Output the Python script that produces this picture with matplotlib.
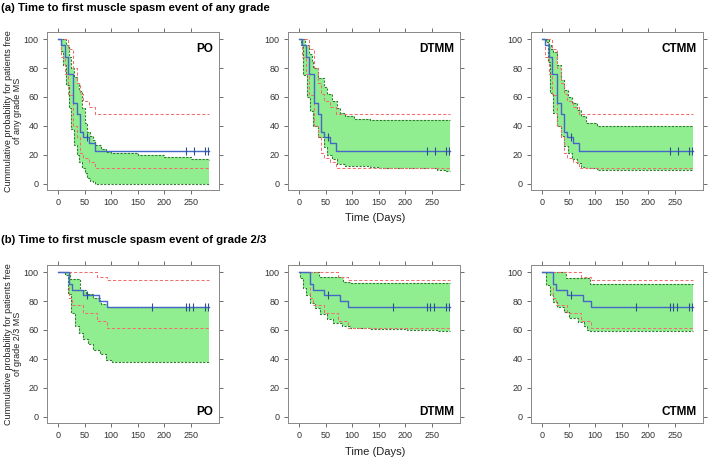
import numpy as np
import matplotlib.pyplot as plt

plt.rcParams['font.family'] = ['Liberation Sans', 'DejaVu Sans']

# observed Kaplan-Meier, any grade (same in all three top panels)
km_a_t = [0, 6, 12, 18, 27.5, 36, 42, 47, 58, 70, 285]
km_a_s = [100, 96, 88, 76, 56, 48, 36, 32, 28, 22.5, 22.5]
cens_a = [55, 240, 255, 276, 283]
# 95% CI of observed KM (red dashed)
ci_a_t = [0, 6, 12, 18, 27.5, 36, 42, 47, 58, 70, 285]
ci_a_lo = [100, 88, 76, 61, 40, 32, 21, 18, 15, 11, 11]
ci_a_hi = [100, 100, 100, 93, 80, 70, 62, 57, 53, 48, 48]

# model prediction bands, any grade
po_a_t = [0, 5, 10, 15, 20, 25, 30, 35, 40, 45, 50, 55, 60, 65, 70, 80, 90, 100, 150, 200, 250, 285]
po_a_hi = [100, 100, 100, 96, 88, 80, 74, 70, 64, 52, 42, 36, 33, 30, 27, 24, 22, 21, 20, 18.5, 17, 16]
po_a_lo = [100, 92, 82, 68, 52, 38, 27, 20, 15, 11, 7, 4, 2, 1, 0, 0, 0, 0, 0, 0, 0, 0]

dt_a_t = [0, 3, 8, 11, 14, 19, 20, 24, 27, 36, 46, 52, 62, 71, 77, 87, 103, 134, 150, 230, 260, 275, 285]
dt_a_hi = [100, 100, 100, 96, 96, 90, 90, 84, 80, 73, 67, 62, 57, 52, 49, 47, 45, 44, 44, 44, 44, 44, 44]
dt_a_lo = [100, 96, 75, 75, 60, 60, 50, 50, 40, 32, 25, 20, 17, 13.5, 13.5, 12, 12, 11.5, 11, 10.5, 9.5, 8.5, 8.5]

ct_a_t = [0, 8, 11, 12, 15, 17, 20, 28, 35, 42, 48, 57, 65, 73, 82, 104, 285]
ct_a_hi = [100, 100, 100, 96, 96, 93, 91, 82, 72, 65, 60, 56, 51, 47, 42, 40, 40]
ct_a_lo = [100, 98, 84, 84, 63, 63, 49, 40, 33, 26, 21, 17, 14, 11.7, 10.5, 9.3, 9.3]

# observed Kaplan-Meier, grade 2/3
km_b_t = [0, 20, 26, 47, 77, 92, 285]
km_b_s = [100, 92, 88, 84, 80, 76, 76]
cens_b = [55, 176, 240, 247, 254, 276, 283]
ci_b_t = [0, 20, 26, 47, 74, 92, 285]
ci_b_lo = [100, 82, 77, 71.5, 66, 61, 61]
ci_b_hi = [100, 100, 100, 100, 97, 94.5, 94.5]

po_b_t = [0, 12, 19, 22, 25, 31, 40, 42, 47, 52, 56, 65, 66, 78, 80, 90, 92, 102, 285]
po_b_hi = [100, 100, 100, 95, 95, 95, 95, 88, 88, 85, 85, 82, 82, 80, 78, 78, 76, 76, 76]
po_b_lo = [100, 98, 85, 85, 72, 63, 58, 58, 54, 54, 50, 50, 46, 43, 43, 39.5, 39.5, 38, 38]

dt_b_t = [0, 2, 8, 13, 20, 30, 38, 39, 52, 64, 80, 82, 96, 134, 204, 260, 285]
dt_b_hi = [100, 100, 100, 100, 100, 100, 97, 97, 97, 97, 97, 93, 92.5, 92.5, 92.5, 92.5, 92.5]
dt_b_lo = [100, 96, 89, 84, 79, 75.5, 75.5, 71, 67.5, 65, 63, 63, 61.5, 60.7, 60, 59, 59]

ct_b_t = [0, 8, 14, 20, 28, 42, 45, 51, 67, 79, 85, 91, 285]
ct_b_hi = [100, 100, 100, 100, 100, 100, 96, 96, 96, 96, 96, 92, 92]
ct_b_lo = [100, 91, 84, 79.5, 76, 72.5, 72.5, 68.5, 65.5, 63, 60, 59, 59]

models = ['PO', 'DTMM', 'CTMM']
xticks = [0, 50, 100, 150, 200, 250]
yticks = [0, 20, 40, 60, 80, 100]

fig = plt.figure(figsize=(7.09, 4.59), dpi=100)
W, H = 709, 459


def km_at(t, kt, ks):
    i = np.searchsorted(kt, t, side='right') - 1
    return np.array(ks)[i]


def draw_panel(ax, bt, blo, bhi, kt, ks, ct, clo, chi, cens, label, top):
    ax.fill_between(bt, blo, bhi, step='post', color='#90ee90', lw=0)
    ax.step(bt, bhi, where='post', color='#347a34', ls=(0, (2, 1.3)), lw=0.8)
    ax.step(bt, blo, where='post', color='#347a34', ls=(0, (2, 1.3)), lw=0.8)
    ax.step(ct, chi, where='post', color='#f26e6e', ls=(0, (3, 2)), lw=0.75)
    ax.step(ct, clo, where='post', color='#f26e6e', ls=(0, (3, 2)), lw=0.75)
    ax.step(kt, ks, where='post', color='#4468c8', lw=1.0)
    cv = [km_at(c, kt, ks) for c in cens]
    ax.plot(cens, cv, ls='none', marker='|', ms=6, mew=0.8, color='#2f4f8f')
    ax.set_xlim(-21, 303)
    ax.set_ylim(-4.5, 105)
    ax.set_xticks(xticks)
    ax.set_yticks(yticks)
    ax.tick_params(direction='out', length=3, width=0.6, color='#555555',
                   labelsize=6.5, labelcolor='#333333', pad=3,
                   top=True, right=True, labeltop=False, labelright=False)
    for s in ax.spines.values():
        s.set_color('#888888')
        s.set_linewidth(0.7)
    if top:
        ax.text(0.965, 0.93, label, transform=ax.transAxes, ha='right', va='top',
                fontsize=8.5, fontweight='bold')
    else:
        ax.text(0.965, 0.03, label, transform=ax.transAxes, ha='right', va='bottom',
                fontsize=8.5, fontweight='bold')


lefts = [47, 288, 531]
bands_a = [(po_a_t, po_a_lo, po_a_hi), (dt_a_t, dt_a_lo, dt_a_hi), (ct_a_t, ct_a_lo, ct_a_hi)]
bands_b = [(po_b_t, po_b_lo, po_b_hi), (dt_b_t, dt_b_lo, dt_b_hi), (ct_b_t, ct_b_lo, ct_b_hi)]

for i in range(3):
    ax = fig.add_axes([lefts[i] / W, (H - 190) / H, 172 / W, 158 / H])
    bt, blo, bhi = bands_a[i]
    draw_panel(ax, bt, blo, bhi, km_a_t, km_a_s, ci_a_t, ci_a_lo, ci_a_hi, cens_a, models[i], True)

    ax = fig.add_axes([lefts[i] / W, (H - 423) / H, 172 / W, 158 / H])
    bt, blo, bhi = bands_b[i]
    draw_panel(ax, bt, blo, bhi, km_b_t, km_b_s, ci_b_t, ci_b_lo, ci_b_hi, cens_b, models[i], False)

fig.text(1 / W, 1 - 8 / H, '(a) Time to first muscle spasm event of any grade',
         fontsize=8.2, fontweight='bold', va='center', ha='left')
fig.text(1 / W, 1 - 240 / H, '(b) Time to first muscle spasm event of grade 2/3',
         fontsize=8.2, fontweight='bold', va='center', ha='left')

fig.text(13 / W, 1 - 111 / H, 'Cummulative probability for patients free\nof any grade MS',
         rotation=90, fontsize=6.5, ha='center', va='center', color='#222222', linespacing=1.1)
fig.text(13 / W, 1 - 344 / H, 'Cummulative probability for patients free\nof grade 2/3 MS',
         rotation=90, fontsize=6.5, ha='center', va='center', color='#222222', linespacing=1.1)

fig.text(375 / W, 1 - 218 / H, 'Time (Days)', fontsize=8, ha='center', va='center', color='#222222')
fig.text(375 / W, 1 - 452 / H, 'Time (Days)', fontsize=8, ha='center', va='center', color='#222222')

fig.savefig('out.png', dpi=100)
